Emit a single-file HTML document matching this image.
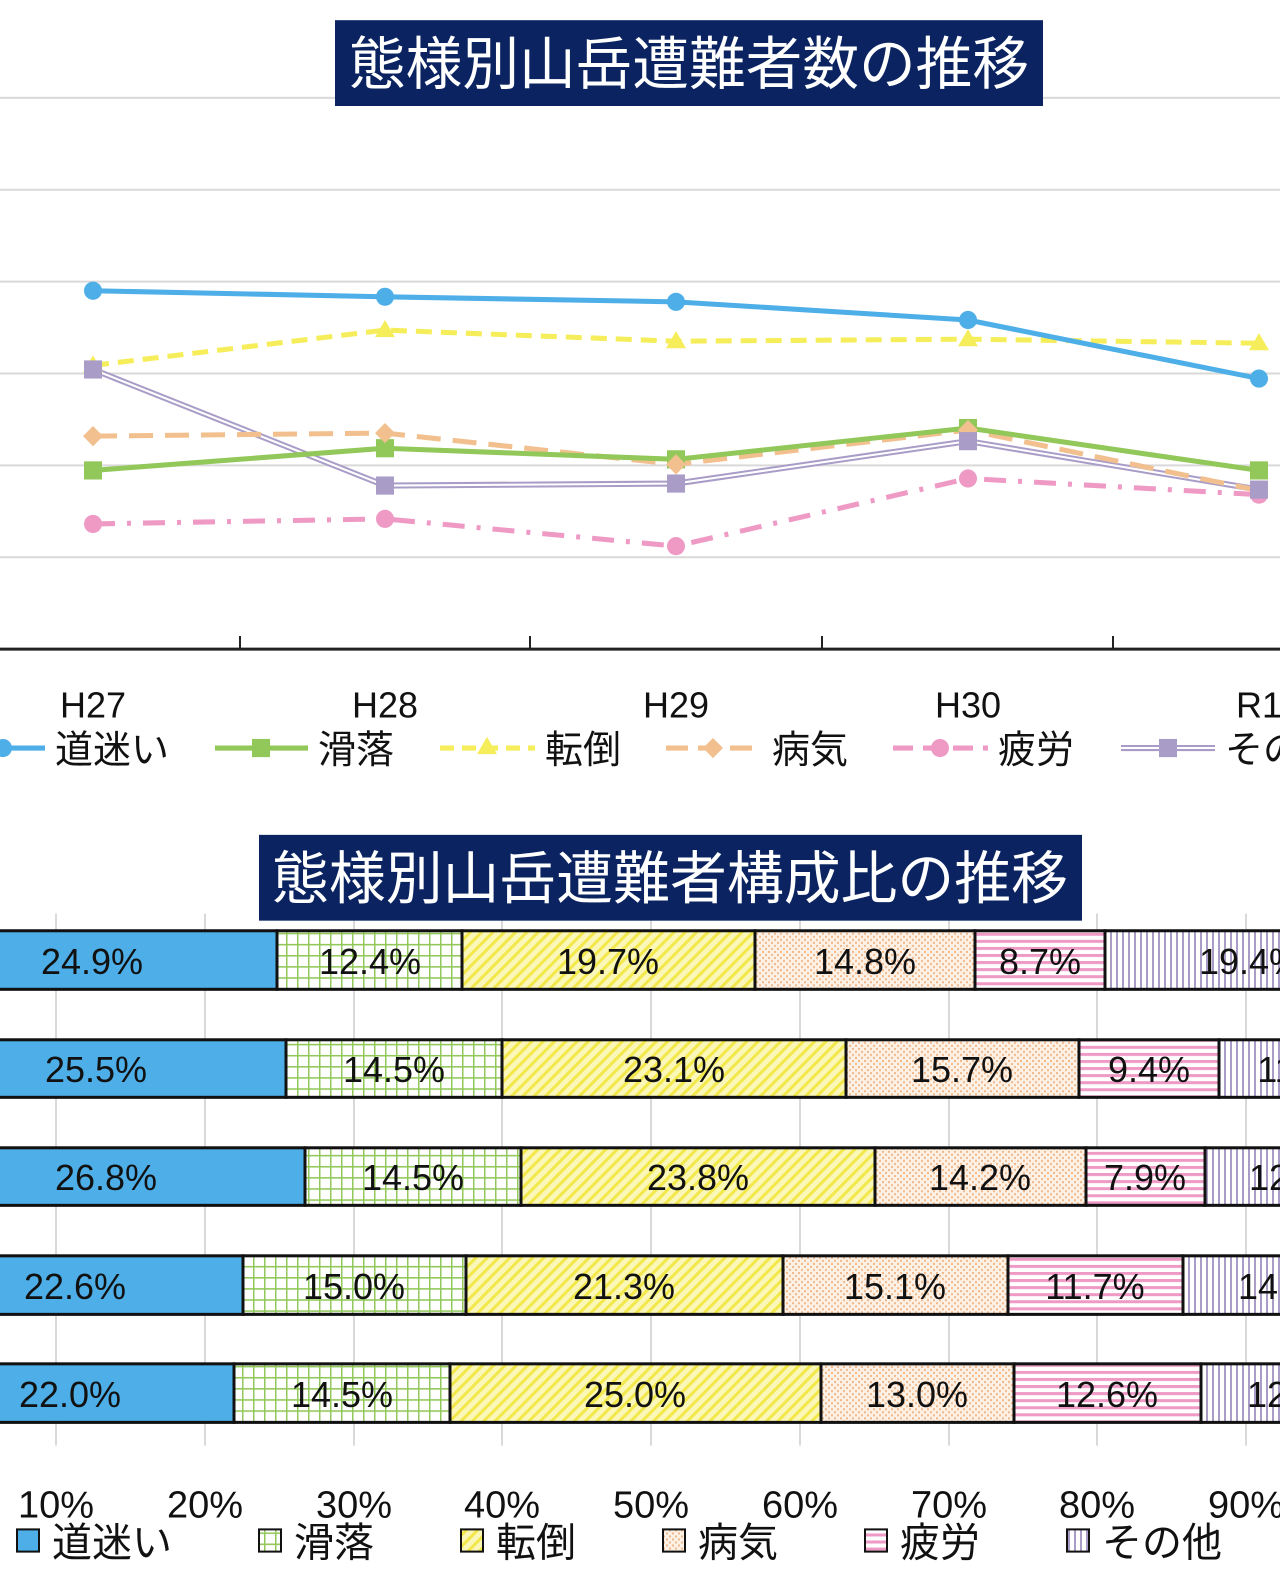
<!DOCTYPE html>
<html><head><meta charset="utf-8"><style>
html,body{margin:0;padding:0;background:#fff;}
svg{display:block;font-family:"Liberation Sans","Noto Sans CJK JP",sans-serif;}
</style></head><body>
<svg width="1280" height="1582" viewBox="0 0 1280 1582" xmlns="http://www.w3.org/2000/svg">
<defs>
<pattern id="pg" width="11" height="11" patternUnits="userSpaceOnUse"><rect width="11" height="11" fill="#fff"/><path d="M0 0H11M0 0V11" stroke="#92C85A" stroke-width="3"/></pattern>
<pattern id="py" width="8" height="8" patternUnits="userSpaceOnUse" patternTransform="rotate(45)"><rect width="8" height="8" fill="#FBF7B8"/><rect width="3" height="8" fill="#F2E84A"/></pattern>
<pattern id="po" width="6" height="6" patternUnits="userSpaceOnUse"><rect width="6" height="6" fill="#FDF1E6"/><rect width="2" height="2" fill="#F0B98C"/><rect x="3" y="3" width="2" height="2" fill="#F0B98C"/></pattern>
<pattern id="pp" width="8" height="7" patternUnits="userSpaceOnUse"><rect width="8" height="7" fill="#fff"/><rect width="8" height="3" fill="#EE9AC5"/></pattern>
<pattern id="pl" width="6" height="8" patternUnits="userSpaceOnUse"><rect width="6" height="8" fill="#fff"/><rect width="2" height="8" fill="#A99DC8"/></pattern>
</defs>
<g transform="scale(1,1.0095)">
<g stroke="#D9D9D9" stroke-width="2">
<line x1="0" y1="97" x2="1280" y2="97"/><line x1="0" y1="188" x2="1280" y2="188"/><line x1="0" y1="279" x2="1280" y2="279"/><line x1="0" y1="370" x2="1280" y2="370"/><line x1="0" y1="461" x2="1280" y2="461"/><line x1="0" y1="552" x2="1280" y2="552"/>
</g>
<line x1="0" y1="643" x2="1280" y2="643" stroke="#222" stroke-width="3"/>
<g stroke="#222" stroke-width="2"><line x1="240" y1="630" x2="240" y2="643"/><line x1="530" y1="630" x2="530" y2="643"/><line x1="822" y1="630" x2="822" y2="643"/><line x1="1113" y1="630" x2="1113" y2="643"/></g>
<rect x="335" y="20" width="708" height="85" fill="#0B2461"/>
<text x="689" y="83" font-size="57" fill="#fff" text-anchor="middle" textLength="680" lengthAdjust="spacingAndGlyphs">態様別山岳遭難者数の推移</text>
<polyline points="93,366 385,481 676,479 968,437 1259,485" fill="none" stroke="#A99DC8" stroke-width="6"/>
<polyline points="93,366 385,481 676,479 968,437 1259,485" fill="none" stroke="#fff" stroke-width="2"/>
<polyline points="93,432 385,429 676,460 968,426 1259,486" fill="none" stroke="#F2C08E" stroke-width="5" stroke-dasharray="24,12"/>
<polyline points="93,466 385,444 676,455 968,424 1259,466" fill="none" stroke="#92C85A" stroke-width="5"/>
<polyline points="93,362 385,327 676,338 968,336 1259,340" fill="none" stroke="#F5EE5A" stroke-width="5" stroke-dasharray="16,9"/>
<polyline points="93,519 385,514 676,541 968,474 1259,490" fill="none" stroke="#EE9AC5" stroke-width="5" stroke-dasharray="22,12,4,12"/>
<polyline points="93,288 385,294 676,299 968,317 1259,375" fill="none" stroke="#4DAEE8" stroke-width="5"/>
<g fill="#4DAEE8"><circle cx="93" cy="288" r="9"/><circle cx="385" cy="294" r="9"/><circle cx="676" cy="299" r="9"/><circle cx="968" cy="317" r="9"/><circle cx="1259" cy="375" r="9"/></g>
<g fill="#92C85A"><rect x="84" y="457" width="18" height="18"/><rect x="376" y="435" width="18" height="18"/><rect x="667" y="446" width="18" height="18"/><rect x="959" y="415" width="18" height="18"/><rect x="1250" y="457" width="18" height="18"/></g>
<g fill="#F5EE5A"><path d="M93 352l10 17h-20z"/><path d="M385 317l10 17h-20z"/><path d="M676 328l10 17h-20z"/><path d="M968 326l10 17h-20z"/><path d="M1259 330l10 17h-20z"/></g>
<g fill="#F2C08E"><path d="M93 422l10 10-10 10-10-10z"/><path d="M385 419l10 10-10 10-10-10z"/><path d="M676 450l10 10-10 10-10-10z"/><path d="M968 416l10 10-10 10-10-10z"/></g>
<g fill="#EE9AC5"><circle cx="93" cy="519" r="9"/><circle cx="385" cy="514" r="9"/><circle cx="676" cy="541" r="9"/><circle cx="968" cy="474" r="9"/><circle cx="1259" cy="490" r="9"/></g>
<g fill="#A99DC8"><rect x="84" y="357" width="18" height="18"/><rect x="376" y="472" width="18" height="18"/><rect x="667" y="470" width="18" height="18"/><rect x="959" y="428" width="18" height="18"/><rect x="1250" y="476" width="18" height="18"/></g>
<g font-size="36" fill="#111" text-anchor="middle"><text x="93" y="711">H27</text><text x="385" y="711">H28</text><text x="676" y="711">H29</text><text x="968" y="711">H30</text><text x="1259" y="711">R1</text></g>
<g font-size="38" fill="#111">
<line x1="0" y1="741" x2="45" y2="741" stroke="#4DAEE8" stroke-width="5"/><circle cx="3" cy="741" r="9" fill="#4DAEE8"/><text x="55" y="756">道迷い</text>
<line x1="215" y1="741" x2="308" y2="741" stroke="#92C85A" stroke-width="5"/><rect x="252" y="732" width="18" height="18" fill="#92C85A"/><text x="318" y="756">滑落</text>
<line x1="440" y1="741" x2="535" y2="741" stroke="#F5EE5A" stroke-width="5" stroke-dasharray="14,8"/><path d="M487 730l10 17h-20z" fill="#F5EE5A"/><text x="545" y="756">転倒</text>
<line x1="666" y1="741" x2="760" y2="741" stroke="#F2C08E" stroke-width="5" stroke-dasharray="22,10"/><path d="M713 731l10 10-10 10-10-10z" fill="#F2C08E"/><text x="772" y="756">病気</text>
<line x1="893" y1="741" x2="988" y2="741" stroke="#EE9AC5" stroke-width="5" stroke-dasharray="20,10"/><circle cx="940" cy="741" r="9" fill="#EE9AC5"/><text x="998" y="756">疲労</text>
<line x1="1121" y1="741" x2="1215" y2="741" stroke="#A99DC8" stroke-width="6"/><line x1="1121" y1="741" x2="1215" y2="741" stroke="#fff" stroke-width="2"/><rect x="1159" y="732" width="18" height="18" fill="#A99DC8"/><text x="1225" y="756">その他</text>
</g>
<g stroke="#D9D9D9" stroke-width="2">
<line x1="56" y1="905" x2="56" y2="1432"/><line x1="205" y1="905" x2="205" y2="1432"/><line x1="354" y1="905" x2="354" y2="1432"/><line x1="502" y1="905" x2="502" y2="1432"/><line x1="651" y1="905" x2="651" y2="1432"/><line x1="800" y1="905" x2="800" y2="1432"/><line x1="949" y1="905" x2="949" y2="1432"/><line x1="1097" y1="905" x2="1097" y2="1432"/><line x1="1246" y1="905" x2="1246" y2="1432"/>
</g>
<rect x="259" y="827" width="823" height="85" fill="#0B2461"/>
<text x="670" y="890" font-size="57" fill="#fff" text-anchor="middle" textLength="796" lengthAdjust="spacingAndGlyphs">態様別山岳遭難者構成比の推移</text>
<g stroke="#111" stroke-width="3">
<rect x="-93" y="922" width="370" height="58" fill="#4DAEE8"/><rect x="277" y="922" width="185" height="58" fill="url(#pg)"/><rect x="462" y="922" width="293" height="58" fill="url(#py)"/><rect x="755" y="922" width="220" height="58" fill="url(#po)"/><rect x="975" y="922" width="130" height="58" fill="url(#pp)"/><rect x="1105" y="922" width="290" height="58" fill="url(#pl)"/>
<rect x="-93" y="1030" width="379" height="57" fill="#4DAEE8"/><rect x="286" y="1030" width="216" height="57" fill="url(#pg)"/><rect x="502" y="1030" width="344" height="57" fill="url(#py)"/><rect x="846" y="1030" width="233" height="57" fill="url(#po)"/><rect x="1079" y="1030" width="140" height="57" fill="url(#pp)"/><rect x="1219" y="1030" width="176" height="57" fill="url(#pl)"/>
<rect x="-93" y="1137" width="398" height="57" fill="#4DAEE8"/><rect x="305" y="1137" width="216" height="57" fill="url(#pg)"/><rect x="521" y="1137" width="354" height="57" fill="url(#py)"/><rect x="875" y="1137" width="211" height="57" fill="url(#po)"/><rect x="1086" y="1137" width="119" height="57" fill="url(#pp)"/><rect x="1205" y="1137" width="190" height="57" fill="url(#pl)"/>
<rect x="-93" y="1244" width="336" height="58" fill="#4DAEE8"/><rect x="243" y="1244" width="223" height="58" fill="url(#pg)"/><rect x="466" y="1244" width="317" height="58" fill="url(#py)"/><rect x="783" y="1244" width="225" height="58" fill="url(#po)"/><rect x="1008" y="1244" width="175" height="58" fill="url(#pp)"/><rect x="1183" y="1244" width="212" height="58" fill="url(#pl)"/>
<rect x="-93" y="1351" width="327" height="58" fill="#4DAEE8"/><rect x="234" y="1351" width="216" height="58" fill="url(#pg)"/><rect x="450" y="1351" width="371" height="58" fill="url(#py)"/><rect x="821" y="1351" width="193" height="58" fill="url(#po)"/><rect x="1014" y="1351" width="187" height="58" fill="url(#pp)"/><rect x="1201" y="1351" width="194" height="58" fill="url(#pl)"/>
</g>
<g font-size="36" fill="#111" text-anchor="middle">
<text x="92" y="965">24.9%</text><text x="370" y="965">12.4%</text><text x="608" y="965">19.7%</text><text x="865" y="965">14.8%</text><text x="1040" y="965">8.7%</text><text x="1250" y="965">19.4%</text>
<text x="96" y="1072">25.5%</text><text x="394" y="1072">14.5%</text><text x="674" y="1072">23.1%</text><text x="962" y="1072">15.7%</text><text x="1149" y="1072">9.4%</text><text x="1307" y="1072">11.8%</text>
<text x="106" y="1179">26.8%</text><text x="413" y="1179">14.5%</text><text x="698" y="1179">23.8%</text><text x="980" y="1179">14.2%</text><text x="1145" y="1179">7.9%</text><text x="1300" y="1179">12.8%</text>
<text x="75" y="1287">22.6%</text><text x="354" y="1287">15.0%</text><text x="624" y="1287">21.3%</text><text x="895" y="1287">15.1%</text><text x="1095" y="1287">11.7%</text><text x="1289" y="1287">14.3%</text>
<text x="70" y="1394">22.0%</text><text x="342" y="1394">14.5%</text><text x="635" y="1394">25.0%</text><text x="917" y="1394">13.0%</text><text x="1107" y="1394">12.6%</text><text x="1298" y="1394">12.9%</text>
</g>
<g font-size="38" fill="#111" text-anchor="middle">
<text x="56" y="1503">10%</text><text x="205" y="1503">20%</text><text x="354" y="1503">30%</text><text x="502" y="1503">40%</text><text x="651" y="1503">50%</text><text x="800" y="1503">60%</text><text x="949" y="1503">70%</text><text x="1097" y="1503">80%</text><text x="1246" y="1503">90%</text>
</g>
<g font-size="40" fill="#111">
<rect x="17" y="1515" width="22" height="22" fill="#4DAEE8" stroke="#111" stroke-width="2"/><text x="52" y="1542">道迷い</text>
<rect x="259" y="1515" width="22" height="22" fill="url(#pg)" stroke="#111" stroke-width="2"/><text x="294" y="1542">滑落</text>
<rect x="461" y="1515" width="22" height="22" fill="url(#py)" stroke="#111" stroke-width="2"/><text x="496" y="1542">転倒</text>
<rect x="663" y="1515" width="22" height="22" fill="url(#po)" stroke="#111" stroke-width="2"/><text x="698" y="1542">病気</text>
<rect x="865" y="1515" width="22" height="22" fill="url(#pp)" stroke="#111" stroke-width="2"/><text x="900" y="1542">疲労</text>
<rect x="1067" y="1515" width="22" height="22" fill="url(#pl)" stroke="#111" stroke-width="2"/><text x="1102" y="1542">その他</text>
</g>
</g>
</svg>
</body></html>
